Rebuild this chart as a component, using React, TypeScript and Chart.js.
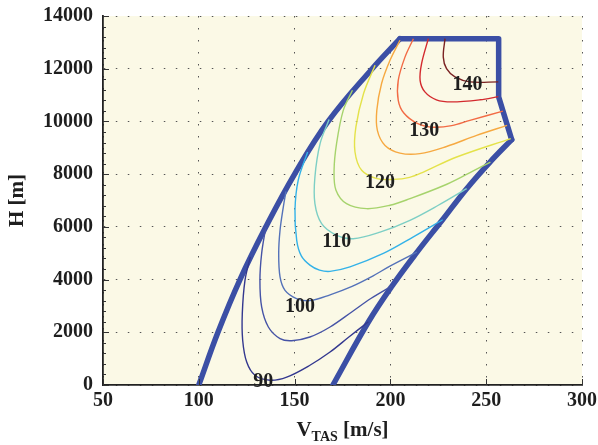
import React, { useEffect, useRef } from 'react';
import { Chart, registerables } from 'chart.js';

Chart.register(...registerables);

// ---- axis ticks ----
const xTickValues = [50, 100, 150, 200, 250, 300];
const yTickValues = [0, 2000, 4000, 6000, 8000, 10000, 12000, 14000];

// ---- flight envelope boundary [V m/s, H m] ----
const leftBoundary: [number, number][] = [
  [100, 0], [110, 2000], [121.5, 4000], [135, 6000], [150, 8000],
  [167.5, 10000], [190.5, 12000], [205, 13140],
];
const topBoundary: [number, number][] = [
  [205, 13140], [256.5, 13140], [256.5, 10930], [263.3, 9310],
];
const rightBoundary: [number, number][] = [
  [263.3, 9310], [252, 8460], [239.8, 7450], [227, 6250], [214, 5050],
  [200.5, 3720], [188.5, 2390], [170, 0],
];

// ---- contour lines [V, H] ----
const c90: [number, number][] = [
  [126.9, 4860], [124.1, 3970], [122.7, 2710], [122.9, 1700], [125, 870], [129.3, 370],
  [137.2, 180], [145.9, 300], [158, 750], [168.5, 1250], [178, 1800], [188.5, 2400],
];
const c95: [number, number][] = [
  [135, 6000], [132.8, 4990], [131.9, 3970], [132.8, 2960], [136.3, 2200], [142.4, 1760],
  [148.5, 1680], [158, 1820], [168.5, 2200], [180, 2780], [190, 3290], [200.8, 3760],
];
const c100: [number, number][] = [
  [145.5, 7350], [144.1, 6750], [142.4, 5870], [141.7, 4990], [142.4, 4100], [145, 3590],
  [151, 3280], [158, 3200], [168.5, 3420], [180, 3740], [190, 4100], [200, 4520], [213.8, 5040],
];
const c105: [number, number][] = [
  [156.8, 8840], [151.9, 7770], [150.2, 6630], [151.1, 5490], [153.5, 4900], [158, 4550],
  [163, 4360], [168.5, 4310], [178.9, 4480], [196.3, 4990], [212, 5620], [227.3, 6270],
];
const c110: [number, number][] = [
  [168, 10070], [163.3, 9160], [160.6, 7890], [160.6, 6880], [164.1, 6120], [171.9, 5680],
  [180.6, 5550], [194.6, 5800], [210.2, 6250], [225, 6820], [239.8, 7450],
];
const c115: [number, number][] = [
  [180.2, 11180], [175.4, 10420], [171.9, 9160], [170.6, 8150], [171.6, 7390], [177.1, 6880],
  [187.6, 6690], [199.8, 6820], [210.2, 7070], [227.6, 7560], [240, 8000], [252.2, 8460],
];
const c120: [number, number][] = [
  [192, 12130], [186, 11060], [182, 9790], [181.5, 8850], [185, 8146], [193, 7830],
  [201.5, 7800], [210, 7880], [217.2, 8080], [234.6, 8650], [262.8, 9350],
];
const c125: [number, number][] = [
  [205, 13080], [199.8, 12320], [195.4, 11440], [192.9, 10420], [193.2, 9660], [197.2, 9090],
  [205, 8800], [215.4, 8780], [229.3, 9050], [245, 9470], [260.9, 9850],
];
const c130: [number, number][] = [
  [212, 13140], [207.6, 12440], [204.1, 11560], [204.1, 10800], [207, 10320], [214, 9930],
  [222.5, 9780], [232, 9840], [241.5, 10040], [258.7, 10390],
];
const c135: [number, number][] = [
  [219.8, 13140], [216.3, 12200], [215.5, 11560], [218, 11120], [224, 10820], [232, 10740],
  [246.8, 10820], [256.3, 10940],
];
const c140: [number, number][] = [
  [228.5, 13140], [227.6, 12440], [229.3, 12000], [233.7, 11690], [241.5, 11500], [256.3, 11500],
];

const contours = [c90, c95, c100, c105, c110, c115, c120, c125, c130, c135, c140];
const contourLevels = [90, 95, 100, 105, 110, 115, 120, 125, 130, 135, 140];
const contourColors = [
  '#33388f', '#4553a6', '#5472b9', '#33b2e8', '#7dcfc5', '#a6d36c',
  '#e4e24a', '#f6a941', '#f26b45', '#d32a2e', '#7a2222',
];

// ---- contour labels ----
const labelTexts = ['90', '100', '110', '120', '130', '140'];
const labelV = [133.7, 152.8, 172, 194.6, 217.7, 240.3];
const labelH = [120, 2960, 5425, 7670, 9633, 11400];

const BG = '#fbf9e6';
const BOUNDARY = '#3b4fa5';
const FONT = "'Liberation Serif', 'Times New Roman', serif";
const TEXT = '#1e1e1e';

const toXY = (arr: [number, number][]) => arr.map(([x, y]) => ({ x, y }));

const zeroPad = (s: any) => {
  s.paddingTop = 0;
  s.paddingBottom = 0;
  s.paddingLeft = 0;
  s.paddingRight = 0;
};

const customPlugin = {
  id: 'customDecor',
  beforeDraw(chart: any) {
    const { ctx, chartArea: a } = chart;
    ctx.save();
    ctx.fillStyle = BG;
    ctx.fillRect(a.left, a.top, a.right - a.left, a.bottom - a.top);
    ctx.restore();
  },
  afterDatasetsDraw(chart: any) {
    const { ctx } = chart;
    const xs = chart.scales.x;
    const ys = chart.scales.y;
    ctx.save();
    ctx.font = `bold 20px ${FONT}`;
    ctx.fillStyle = TEXT;
    ctx.textAlign = 'center';
    ctx.textBaseline = 'middle';
    labelTexts.forEach((t, i) => {
      ctx.fillText(t, xs.getPixelForValue(labelV[i]), ys.getPixelForValue(labelH[i]));
    });
    ctx.restore();
  },
  afterDraw(chart: any) {
    const { ctx, chartArea: a } = chart;
    const xs = chart.scales.x;
    const ys = chart.scales.y;
    ctx.save();
    ctx.strokeStyle = '#333';
    ctx.lineWidth = 1;
    // left axis ticks: major every 2000, minor every 400
    for (let h = 0; h <= 14000; h += 400) {
      const y = Math.round(ys.getPixelForValue(h)) + 0.5;
      const len = h % 2000 === 0 ? 6 : 3;
      ctx.beginPath();
      ctx.moveTo(a.left, y);
      ctx.lineTo(a.left + len, y);
      ctx.stroke();
    }
    // bottom axis ticks
    xTickValues.forEach((v) => {
      const x = Math.round(xs.getPixelForValue(v)) + 0.5;
      ctx.beginPath();
      ctx.moveTo(x, a.bottom);
      ctx.lineTo(x, a.bottom - 6);
      ctx.stroke();
    });
    // y title
    ctx.fillStyle = TEXT;
    ctx.font = `bold 21px ${FONT}`;
    ctx.save();
    ctx.translate(18, (a.top + a.bottom) / 2);
    ctx.rotate(-Math.PI / 2);
    ctx.textAlign = 'center';
    ctx.textBaseline = 'middle';
    ctx.fillText('H [m]', 0, 0);
    ctx.restore();
    // x title with subscript
    const main1 = 'V';
    const sub = 'TAS';
    const main2 = ' [m/s]';
    ctx.textBaseline = 'alphabetic';
    ctx.textAlign = 'left';
    ctx.font = `bold 21px ${FONT}`;
    const w1 = ctx.measureText(main1).width;
    const w3 = ctx.measureText(main2).width;
    ctx.font = `bold 14px ${FONT}`;
    const w2 = ctx.measureText(sub).width;
    const total = w1 + w2 + w3;
    let x0 = (a.left + a.right) / 2 - total / 2;
    const base = 436;
    ctx.font = `bold 21px ${FONT}`;
    ctx.fillText(main1, x0, base);
    x0 += w1;
    ctx.font = `bold 14px ${FONT}`;
    ctx.fillText(sub, x0, base + 5);
    x0 += w2;
    ctx.font = `bold 21px ${FONT}`;
    ctx.fillText(main2, x0, base);
    ctx.restore();
  },
};

export default function App() {
  const canvasRef = useRef<HTMLCanvasElement | null>(null);

  useEffect(() => {
    if (!canvasRef.current) return;
    const contourSets = contours.map((c, i) => ({
      label: String(contourLevels[i]),
      data: toXY(c),
      showLine: true,
      borderColor: contourColors[i],
      borderWidth: 1.4,
      pointRadius: 0,
      tension: 0.35,
      fill: false,
    }));
    const boundarySets = [leftBoundary, topBoundary, rightBoundary].map((b, i) => ({
      label: 'boundary' + i,
      data: toXY(b),
      showLine: true,
      borderColor: BOUNDARY,
      borderWidth: 5.5,
      pointRadius: 0,
      tension: i === 1 ? 0 : 0.4,
      borderCapStyle: 'round',
      borderJoinStyle: 'round',
      fill: false,
    }));

    const chart = new Chart(canvasRef.current, {
      type: 'scatter',
      data: { datasets: [...contourSets, ...boundarySets] as any },
      options: {
        animation: false,
        responsive: true,
        maintainAspectRatio: false,
        layout: { padding: { top: 16, right: 16, left: 0, bottom: 0 } },
        plugins: {
          legend: { display: false },
          tooltip: { enabled: false },
          title: { display: false },
        },
        scales: {
          x: {
            type: 'linear',
            min: 50,
            max: 300,
            afterFit: (s: any) => { s.height = 60; zeroPad(s); },
            afterBuildTicks: (s: any) => { s.ticks = xTickValues.map((v) => ({ value: v })); },
            ticks: {
              padding: 4,
              color: TEXT,
              font: { family: FONT, size: 20, weight: 'bold' },
              maxRotation: 0,
              autoSkip: false,
              callback: (v: any) => String(v),
            },
            grid: {
              color: '#555',
              lineWidth: 1,
              drawTicks: false,
            },
            border: { display: true, color: '#222', width: 1.8, dash: [1.5, 10.5] },
          },
          y: {
            type: 'linear',
            min: 0,
            max: 14000,
            afterFit: (s: any) => { s.width = 103; zeroPad(s); },
            afterBuildTicks: (s: any) => { s.ticks = yTickValues.map((v) => ({ value: v })); },
            ticks: {
              padding: 10,
              color: TEXT,
              font: { family: FONT, size: 20, weight: 'bold' },
              autoSkip: false,
              callback: (v: any) => String(v),
            },
            grid: {
              color: '#555',
              lineWidth: 1,
              drawTicks: false,
            },
            border: { display: true, color: '#222', width: 1.8, dash: [1.5, 10.5] },
          },
        },
      } as any,
      plugins: [customPlugin],
    });
    return () => chart.destroy();
  }, []);

  return (
    <div style={{ position: 'absolute', left: 0, top: 0, width: 598, height: 445, background: '#fff' }}>
      <canvas ref={canvasRef} />
    </div>
  );
}
